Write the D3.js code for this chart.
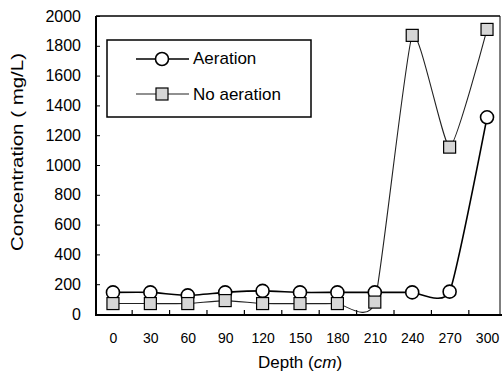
<!DOCTYPE html>
<html>
<head>
<meta charset="utf-8">
<script src="https://cdn.jsdelivr.net/npm/d3@7"></script>
<style>
  body { margin: 0; background: #fff; }
  svg { display: block; font-family: "Liberation Sans", Arial, sans-serif; }
</style>
</head>
<body>
<svg id="chart" width="502" height="376"></svg>
<script>
// values
const depths = [0, 30, 60, 90, 120, 150, 180, 210, 240, 270, 300];
const aeration = [145, 145, 125, 145, 155, 145, 145, 145, 145, 150, 1320];
const noAeration = [70, 70, 70, 90, 70, 70, 70, 80, 1870, 1120, 1910];
const yTicks = [0, 200, 400, 600, 800, 1000, 1200, 1400, 1600, 1800, 2000];
const xMinorTicks = [15, 45, 75, 105, 135, 165, 195, 225, 255, 285];

const svg = d3.select("#chart");
const plotLeft = 96, plotRight = 500, plotTop = 16, plotBottom = 315;

const x = d3.scaleLinear().domain([-13.6, 310.4]).range([plotLeft, plotRight]);
const y = d3.scaleLinear().domain([0, 2000]).range([314, plotTop]);

// frame
svg.append("line").attr("x1", plotLeft).attr("x2", plotRight).attr("y1", plotTop).attr("y2", plotTop)
    .attr("stroke", "#000").attr("stroke-width", 1.5);
svg.append("line").attr("x1", plotRight).attr("x2", plotRight).attr("y1", plotTop).attr("y2", plotBottom)
    .attr("stroke", "#000").attr("stroke-width", 1);

// y axis
const yAxis = svg.append("g")
    .attr("transform", `translate(${plotLeft},0)`)
    .call(d3.axisLeft(y).tickValues(yTicks).tickFormat(d3.format("d"))
        .tickSizeInner(-4).tickSizeOuter(0).tickPadding(15));
yAxis.select(".domain").remove();
yAxis.selectAll("text").attr("font-size", 16).attr("fill", "#000").attr("font-family", null);
yAxis.selectAll("line").attr("stroke-width", 1);

// x axis labels
const xAxis = svg.append("g")
    .attr("transform", `translate(0,${plotBottom})`)
    .call(d3.axisBottom(x).tickValues(depths).tickSize(0).tickPadding(18));
xAxis.select(".domain").remove();
xAxis.selectAll("text").attr("font-size", 14).attr("fill", "#000").attr("font-family", null);

// x axis ticks between labels
const xTickAxis = svg.append("g")
    .attr("transform", `translate(0,${plotBottom})`)
    .call(d3.axisBottom(x).tickValues(xMinorTicks).tickSizeInner(-5).tickSizeOuter(0).tickFormat(""));
xTickAxis.select(".domain").remove();
xTickAxis.selectAll("line").attr("stroke-width", 1.2);

svg.append("line").attr("x1", plotLeft).attr("x2", plotLeft).attr("y1", plotTop).attr("y2", plotBottom + 1)
    .attr("stroke", "#000").attr("stroke-width", 2);
svg.append("line").attr("x1", plotLeft - 1).attr("x2", plotRight + 2).attr("y1", plotBottom).attr("y2", plotBottom)
    .attr("stroke", "#000").attr("stroke-width", 2.2);

// axis titles
svg.append("text")
    .attr("transform", "translate(23,152) rotate(-90)")
    .attr("text-anchor", "middle")
    .attr("font-size", 17)
    .attr("textLength", 198)
    .attr("lengthAdjust", "spacingAndGlyphs")
    .text("Concentration ( mg/L)");

const xTitle = svg.append("text")
    .attr("x", 300).attr("y", 368)
    .attr("text-anchor", "middle")
    .attr("font-size", 17);
xTitle.append("tspan").text("Depth (");
xTitle.append("tspan").attr("font-style", "italic").text("cm");
xTitle.append("tspan").text(")");

// smoothed lines
const line = d3.line()
    .x((d, i) => x(depths[i]))
    .y(d => y(d))
    .curve(d3.curveCardinal.tension(0.5));

svg.append("path").datum(aeration)
    .attr("d", line).attr("fill", "none").attr("stroke", "#000").attr("stroke-width", 1.6);
svg.append("path").datum(noAeration)
    .attr("d", line).attr("fill", "none").attr("stroke", "#222").attr("stroke-width", 1.1);

// markers
svg.selectAll("circle.aer").data(aeration).enter().append("circle")
    .attr("class", "aer")
    .attr("cx", (d, i) => x(depths[i]))
    .attr("cy", d => y(d))
    .attr("r", 6.5)
    .attr("fill", "#fff").attr("stroke", "#000").attr("stroke-width", 1.6);

const sq = 12;
svg.selectAll("rect.noaer").data(noAeration).enter().append("rect")
    .attr("class", "noaer")
    .attr("x", (d, i) => x(depths[i]) - sq / 2)
    .attr("y", d => y(d) - sq / 2)
    .attr("width", sq).attr("height", sq)
    .attr("fill", "#d6d6d6").attr("stroke", "#000").attr("stroke-width", 1.2);

// legend
const legend = svg.append("g");
legend.append("rect")
    .attr("x", 107).attr("y", 40).attr("width", 204).attr("height", 77)
    .attr("fill", "#fff").attr("stroke", "#000").attr("stroke-width", 1.5);

legend.append("line").attr("x1", 136).attr("x2", 189).attr("y1", 59).attr("y2", 59)
    .attr("stroke", "#000").attr("stroke-width", 1.6);
legend.append("circle").attr("cx", 162).attr("cy", 59).attr("r", 6.5)
    .attr("fill", "#fff").attr("stroke", "#000").attr("stroke-width", 1.6);
legend.append("text").attr("x", 193).attr("y", 64).attr("font-size", 17).text("Aeration");

legend.append("line").attr("x1", 136).attr("x2", 189).attr("y1", 94).attr("y2", 94)
    .attr("stroke", "#222").attr("stroke-width", 1.1);
legend.append("rect").attr("x", 162 - sq / 2).attr("y", 94 - sq / 2).attr("width", sq).attr("height", sq)
    .attr("fill", "#d6d6d6").attr("stroke", "#000").attr("stroke-width", 1.2);
legend.append("text").attr("x", 193).attr("y", 100).attr("font-size", 17).text("No aeration");
</script>
</body>
</html>
